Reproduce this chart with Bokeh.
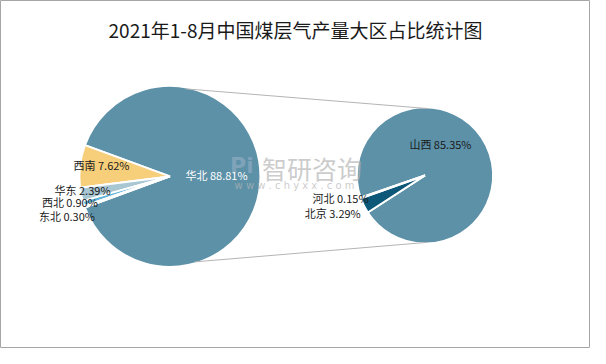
import math
from bokeh.plotting import figure
from bokeh.models import Range1d, ColumnDataSource
from bokeh.core.properties import value
from bokeh.embed import file_html
from bokeh.resources import INLINE

# ---------------- data ----------------
title_text = "2021年1-8月中国煤层气产量大区占比统计图"
regions = ["华北", "西南", "华东", "西北", "东北"]
region_share = [88.81, 7.62, 2.39, 0.90, 0.30]
region_colors = ["#5C91A8", "#F7CF7B", "#A9C6D3", "#5BB3DA", "#A6D3EA"]

provinces = ["山西", "北京", "河北"]          # breakdown of 华北
province_share = [85.35, 3.29, 0.15]
province_colors = ["#5C91A8", "#0D5878", "#BFD8E4"]

# ---------------- layout (reference pixels; y measured from top) ----------------
W, H = 590, 348
REF_W, REF_H = 606, 364

def Y(py):
    return REF_H - py

L_CX, L_CY, L_R = 174, 184, 93
R_CX, R_CY, R_R = 436, 183, 70

p = figure(width=W, height=H, output_backend="svg", toolbar_location=None,
           x_range=Range1d(0, REF_W), y_range=Range1d(0, REF_H),
           min_border=0, match_aspect=False)
p.axis.visible = False
p.xgrid.grid_line_color = None
p.ygrid.grid_line_color = None
p.background_fill_color = "white"
p.border_fill_color = "white"
p.outline_line_color = "#A6A6A6"
p.outline_line_width = 1

# ---------------- left pie ----------------
small_total = sum(region_share[1:])
start_deg = 180 - small_total / 100 * 360 / 2
starts, ends = [], []
a = start_deg
for v in region_share[1:]:
    span = v / 100 * 360
    starts.append(a)
    ends.append(a + span)
    a += span
main_start = a
main_end = start_deg + 360
l_start = [main_start] + starts
l_end = [main_end] + ends
left_src = ColumnDataSource(dict(
    x=[L_CX] * len(regions), y=[Y(L_CY)] * len(regions),
    start=[math.radians(s) for s in l_start], end=[math.radians(e) for e in l_end],
    color=region_colors, name=regions))
p.wedge(x="x", y="y", radius=L_R, start_angle="start", end_angle="end",
        fill_color="color", line_color="white", line_width=2, source=left_src)

# ---------------- right pie ----------------
ptotal = sum(province_share)
r_start_deg = 199.0
order = [2, 1, 0]  # 河北, 北京, 山西 counter-clockwise
rs, re_ = [0] * 3, [0] * 3
a = r_start_deg
for i in order:
    span = province_share[i] / ptotal * 360
    rs[i] = a
    re_[i] = a + span
    a += span
right_src = ColumnDataSource(dict(
    x=[R_CX] * 3, y=[Y(R_CY)] * 3,
    start=[math.radians(s) for s in rs], end=[math.radians(e) for e in re_],
    color=province_colors, name=provinces))
p.wedge(x="x", y="y", radius=R_R, start_angle="start", end_angle="end",
        fill_color="color", line_color="white", line_width=2, source=right_src)

# ---------------- connector lines ----------------
def pt(cx, cy, r, deg):
    return cx + r * math.cos(math.radians(deg)), Y(cy) + r * math.sin(math.radians(deg))

t1 = pt(L_CX, L_CY, L_R, 80); t2 = pt(R_CX, R_CY, R_R, 87)
b1 = pt(L_CX, L_CY, L_R, -74); b2 = pt(R_CX, R_CY, R_R, -88)
p.segment(x0=[t1[0], b1[0]], y0=[t1[1], b1[1]], x1=[t2[0], b2[0]], y1=[t2[1], b2[1]],
          line_color="#B4B4B4", line_width=1)

# ---------------- watermark ----------------
p.text(x=[248], y=[Y(173)], text=["Pi"], text_font=value("DejaVu Sans"),
       text_font_size="22px", text_font_style="bold", text_color="#9FB3C8",
       text_alpha=0.55, text_align="center", text_baseline="middle")
p.text(x=[320], y=[Y(175)], text=["智研咨询"], text_font=value("Noto Sans CJK SC"),
       text_font_size="25px", text_color="#B5B5B5", text_alpha=0.7,
       text_align="center", text_baseline="middle")
p.text(x=[302], y=[Y(193)], text=["w w w . c h y x x . c o m"], text_font=value("DejaVu Sans"),
       text_font_size="10px", text_color="#B5B5B5", text_alpha=0.7,
       text_align="center", text_baseline="middle")

# ---------------- labels ----------------
FONT = value("Noto Sans CJK SC")
lab = lambda n, v: f"{n} {v:.2f}%"
p.text(x=[190], y=[Y(183)], text=[lab(regions[0], region_share[0])], text_font=FONT,
       text_font_size="11px", text_color="white", text_align="left", text_baseline="middle")
p.text(x=[75], y=[Y(172)], text=[lab(regions[1], region_share[1])], text_font=FONT,
       text_font_size="11px", text_color="#1A1A1A", text_align="left", text_baseline="middle")
p.text(x=[113, 100, 97], y=[Y(198), Y(211), Y(225)],
       text=[lab(n, v) for n, v in zip(regions[2:], region_share[2:])], text_font=FONT,
       text_font_size="11px", text_color="#1A1A1A", text_align="right", text_baseline="middle")
p.text(x=[420], y=[Y(150)], text=[lab(provinces[0], province_share[0])], text_font=FONT,
       text_font_size="11px", text_color="#1A1A1A", text_align="left", text_baseline="middle")
p.text(x=[378, 370], y=[Y(207), Y(222)],
       text=[lab(provinces[2], province_share[2]), lab(provinces[1], province_share[1])],
       text_font=FONT, text_font_size="11px", text_color="#1A1A1A",
       text_align="right", text_baseline="middle")

# ---------------- title ----------------
p.text(x=[303], y=[Y(30)], text=[title_text], text_font=FONT, text_font_size="19px",
       text_color="#1A1A1A", text_align="center", text_baseline="middle")

open("out.html", "w").write(file_html(p, INLINE))
